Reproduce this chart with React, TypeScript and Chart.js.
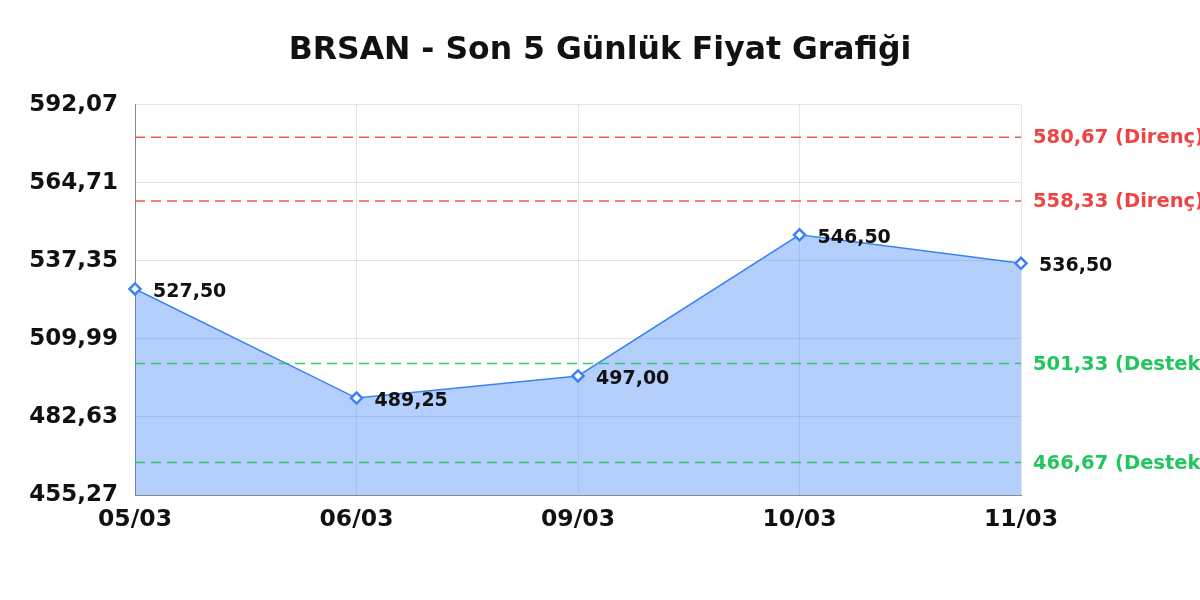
import React, { useEffect, useRef } from "react";
import { Chart, registerables } from "chart.js";

Chart.register(...registerables);

const TITLE = "BRSAN - Son 5 Günlük Fiyat Grafiği";
const labels = ["05/03", "06/03", "09/03", "10/03", "11/03"];
const prices = [527.5, 489.25, 497.0, 546.5, 536.5];
const yTicks = [455.27, 482.63, 509.99, 537.35, 564.71, 592.07];
const resistanceLevels = [580.67, 558.33];
const supportLevels = [501.33, 466.67];
const resistanceLabel = "Direnç";
const supportLabel = "Destek";

const fmt = (v: number) => v.toFixed(2).replace(".", ",");

const FONT = "'DejaVu Sans', sans-serif";

const levelsPlugin = {
  id: "levels",
  afterDatasetsDraw(chart: any) {
    const { ctx, chartArea, scales } = chart;
    const y = scales.y;
    const draw = (vals: number[], lineColor: string, textColor: string, name: string) => {
      vals.forEach((v) => {
        const py = y.getPixelForValue(v);
        ctx.save();
        ctx.strokeStyle = lineColor;
        ctx.lineWidth = 1.5;
        ctx.setLineDash([10, 6]);
        ctx.beginPath();
        ctx.moveTo(chartArea.left, py);
        ctx.lineTo(chartArea.right, py);
        ctx.stroke();
        ctx.setLineDash([]);
        ctx.fillStyle = textColor;
        ctx.font = `bold 19.5px ${FONT}`;
        ctx.textAlign = "left";
        ctx.textBaseline = "middle";
        ctx.fillText(`${fmt(v)} (${name})`, chartArea.right + 12, py + 1);
        ctx.restore();
      });
    };
    draw(resistanceLevels, "rgba(239,68,68,0.9)", "#ef4444", resistanceLabel);
    draw(supportLevels, "rgba(34,197,94,0.9)", "#22c55e", supportLabel);

    const meta = chart.getDatasetMeta(0);
    ctx.save();
    ctx.fillStyle = "#111";
    ctx.font = `bold 19px ${FONT}`;
    ctx.textAlign = "left";
    ctx.textBaseline = "middle";
    meta.data.forEach((pt: any, i: number) => {
      ctx.fillText(fmt(prices[i]), pt.x + 18, pt.y + 3);
    });
    ctx.restore();
  },
};

export default function App() {
  const ref = useRef<HTMLCanvasElement | null>(null);
  useEffect(() => {
    document.body.style.margin = "0";
    Chart.defaults.font.family = FONT;
    const chart = new Chart(ref.current as HTMLCanvasElement, {
      type: "line",
      data: {
        labels,
        datasets: [
          {
            data: prices,
            yAxisID: "y",
            borderColor: "#3b82f6",
            borderWidth: 1.5,
            backgroundColor: "rgba(59,130,246,0.38)",
            fill: "start",
            tension: 0,
            pointStyle: "rectRot",
            pointRadius: 5.5,
            pointBorderWidth: 2.5,
            pointBorderColor: "#3b82f6",
            pointBackgroundColor: "#ffffff",
          },
        ],
      },
      options: {
        animation: false,
        responsive: false,
        maintainAspectRatio: false,
        layout: { padding: 0 },
        plugins: {
          legend: { display: false },
          tooltip: { enabled: false },
          title: {
            display: true,
            text: TITLE,
            color: "#111",
            font: { size: 31.5, weight: "bold", family: FONT },
            padding: { top: 32, bottom: 35 },
          },
        },
        scales: {
          x: {
            offset: false,
            grid: { color: "rgba(0,0,0,0.1)", drawTicks: false },
            border: { color: "#888", width: 1 },
            ticks: {
              color: "#111",
              font: { size: 23.5, weight: "bold", family: FONT },
              padding: 11,
              maxRotation: 0,
            },
            afterFit(scale: any) {
              scale.height = 105;
            },
          },
          y: {
            min: 455.27,
            max: 592.07,
            grid: { color: "rgba(0,0,0,0.1)", drawTicks: false },
            border: { color: "#888", width: 1 },
            ticks: {
              color: "#111",
              font: { size: 23, weight: "bold", family: FONT },
              padding: 17,
              callback: (v: any) => fmt(Number(v)),
            },
            afterBuildTicks(scale: any) {
              scale.ticks = yTicks.map((v) => ({ value: v }));
            },
            afterFit(scale: any) {
              scale.width = 135;
            },
          },
          r: {
            type: "linear",
            position: "right",
            display: true,
            grid: { display: false, drawTicks: false },
            border: { display: false },
            ticks: { display: false },
            afterFit(scale: any) {
              scale.width = 179;
            },
          },
        },
      },
      plugins: [levelsPlugin],
    });
    return () => chart.destroy();
  }, []);
  return (
    <div style={{ position: "absolute", left: 0, top: 0, width: 1200, height: 600 }}>
      <canvas ref={ref} width={1200} height={600} style={{ width: 1200, height: 600 }} />
    </div>
  );
}
